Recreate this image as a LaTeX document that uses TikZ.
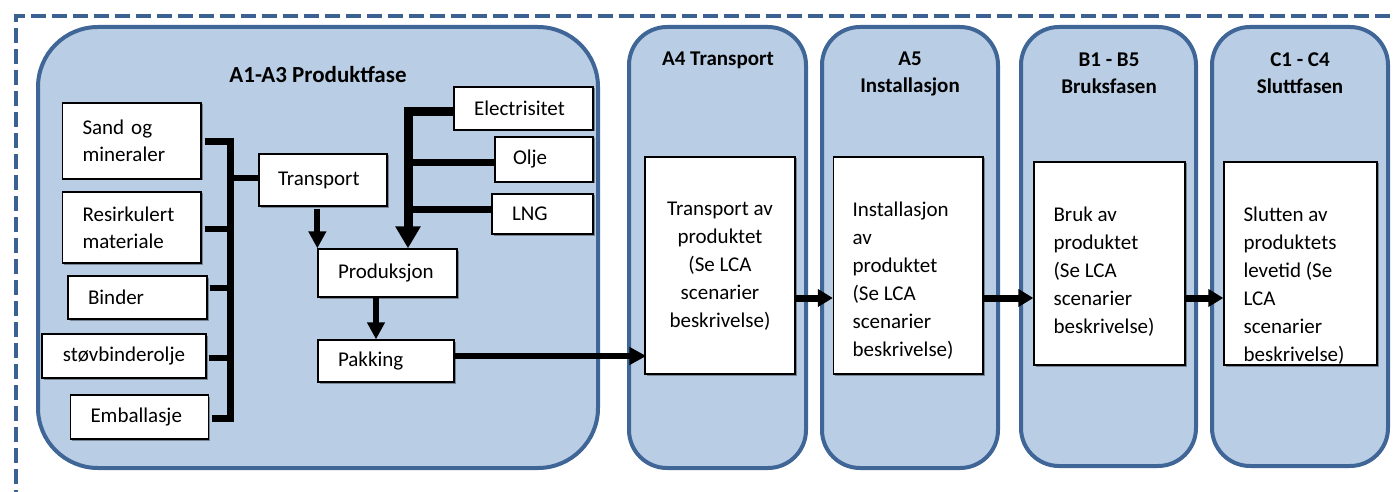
\documentclass[tikz,border=0pt]{standalone}
\usepackage{fontspec}
\setmainfont{Carlito}
\usetikzlibrary{arrows.meta,shadows}
\definecolor{phasefill}{HTML}{B9CDE5}
\definecolor{phaseline}{HTML}{3F6697}
\definecolor{framecol}{HTML}{3B6193}
\newcommand\mybodyfont{\fontsize{21}{27}\selectfont}
\newcommand\myinfont{\fontsize{21}{28}\selectfont}
\newcommand\mytitlefont{\bfseries\fontsize{21}{27}\selectfont}
\begin{document}
\begin{tikzpicture}[x=1pt,y=-1pt,
  frame/.style={draw=framecol, line width=4pt, dash pattern=on 15pt off 6pt},
  phase/.style={draw=phaseline, line width=4pt, fill=phasefill, rounded corners=38pt, inner sep=0pt},
  box/.style={draw=black, line width=1.3pt, fill=white, inner sep=0pt,
    drop shadow={shadow xshift=1.5pt, shadow yshift=-1.5pt, opacity=0.35, fill=black}},
  lbox/.style={box, align=left, inner xsep=20pt, font=\mybodyfont},
  ttl/.style={font=\mytitlefont, align=center, inner sep=0pt},
  intxt/.style={font=\myinfont, inner sep=0pt},
  bus/.style={draw=black, line width=7pt},
  stub/.style={draw=black, line width=6pt},
  ebus/.style={draw=black, line width=9pt},
  arr/.style={draw=black, line width=6pt, -{Triangle[width=17pt,length=17pt]}},
  earr/.style={draw=black, line width=9pt, -{Triangle[width=24pt,length=22pt]}},
  parr/.style={draw=black, line width=7pt, -{Triangle[width=17pt,length=15pt]}}
]
\useasboundingbox (0,0) rectangle (1393,492);
% dashed outer frame
\coordinate (fbl) at (15.5,505);
\coordinate (ftl) at (15.5,16);
\coordinate (ftr) at (1405,16);
\draw[frame] (fbl) -- (ftl) -- (ftr);

% phase boxes
\node[phase, rounded corners=60pt, minimum width=560pt, minimum height=441pt] (p13) at (318,247.5) {};
\node[phase, minimum width=177pt, minimum height=441pt] (pa4) at (717.5,247.5) {};
\node[phase, minimum width=176pt, minimum height=441pt] (pa5) at (910,247.5) {};
\node[phase, minimum width=175pt, minimum height=439pt] (pb) at (1108.5,246.5) {};
\node[phase, minimum width=176pt, minimum height=439pt] (pc) at (1300,246.5) {};

% titles
\node[ttl, font=\bfseries\fontsize{23}{28}\selectfont] (t13) at (318,75) {A1-A3 Produktfase};
\node[ttl] (ta4) at (718,60) {A4 Transport};
\node[ttl] (ta5) at (910,73.5) {A5\\Installasjon};
\node[ttl] (tb) at (1109,73.5) {B1 - B5\\Bruksfasen};
\node[ttl] (tc) at (1300,73.5) {C1 - C4\\Sluttfasen};

% left input boxes
\node[lbox, text width=98.5pt, minimum height=76pt] (sand) at (131.75,141) {Sand og\\mineraler};
\node[lbox, text width=98.5pt, minimum height=71pt] (resirk) at (131.75,227.5) {Resirkulert\\materiale};
\node[lbox, text width=99pt, minimum height=43pt] (binder) at (137.5,297.5) {Binder};
\node[lbox, align=center, text width=124pt, minimum height=44pt] (stov) at (124,356) {støvbinderolje};
\node[lbox, text width=98pt, minimum height=44pt] (emb) at (139.5,417) {Emballasje};
\node[lbox, inner xsep=19pt, text width=90pt, minimum height=52pt] (transp) at (323,180) {Transport};
\node[lbox, text width=99pt, minimum height=48pt] (prod) at (387.5,273) {Produksjon};
\node[lbox, text width=96pt, minimum height=42pt] (pak) at (386,361) {Pakking};
\node[lbox, text width=99pt, minimum height=43pt] (elec) at (523.5,108.5) {Electrisitet};
\node[lbox, inner xsep=18pt, text width=62pt, minimum height=45pt] (olje) at (544,159.5) {Olje};
\node[lbox, text width=61pt, minimum height=40pt] (lng) at (542.5,214) {LNG};

% inner scenario boxes
\node[box, minimum width=150pt, minimum height=217pt] (a4in) at (720,265.5) {};
\node[box, minimum width=149.5pt, minimum height=217pt] (a5in) at (908.25,265.5) {};
\node[box, minimum width=151pt, minimum height=203pt] (bin) at (1109.5,263.5) {};
\node[box, minimum width=153pt, minimum height=203pt] (cin) at (1300.5,263.5) {};

\node[intxt, align=center, anchor=north] (a4t) at ([yshift=-45pt]a4in.north)
  {Transport av\\produktet\\(Se LCA\\scenarier\\beskrivelse)};
\node[intxt, align=left, anchor=north west] (a5t) at ([xshift=19.5pt,yshift=-45pt]a5in.north west)
  {Installasjon\\av\\produktet\\(Se LCA\\scenarier\\beskrivelse)};
\node[intxt, align=left, anchor=north west] (bt) at ([xshift=20pt,yshift=-45pt]bin.north west)
  {Bruk av\\produktet\\(Se LCA\\scenarier\\beskrivelse)};
\node[intxt, align=left, anchor=north west] (ct) at ([xshift=20pt,yshift=-45pt]cin.north west)
  {Slutten av\\produktets\\levetid (Se\\LCA\\scenarier\\beskrivelse)};

% left collector bus
\coordinate (busB) at (230,418);
\draw[bus] ([xshift=3pt,yshift=-1pt]sand.east) -| (busB) -- ([xshift=3pt]busB -| emb.east);
\draw[stub] ([xshift=3pt,yshift=-1.5pt]resirk.east) -- ([yshift=-1.5pt]resirk.east -| busB);
\draw[stub] ([xshift=2pt,yshift=10pt]binder.east) -- ([yshift=10pt]binder.east -| busB);
\draw[stub] ([xshift=2pt,yshift=-2pt]stov.east) -- ([yshift=-2pt]stov.east -| busB);
\draw[stub] ([yshift=2pt]transp.west -| busB) -- ([yshift=2pt]transp.west);

% energy bus
\coordinate (ecol) at (408,112);
\draw[earr] ([yshift=-3.5pt]elec.west) -| (ecol |- prod.north);
\draw[stub, line width=7pt] ([yshift=-3.5pt]olje.west -| ecol) -- ([yshift=-3.5pt]olje.west);
\draw[stub, line width=7pt] ([yshift=5pt]lng.west -| ecol) -- ([yshift=5pt]lng.west);

% process arrows
\draw[arr] ([yshift=-2pt]transp.south -| prod.north west) -- (prod.north west);
\draw[arr] ([xshift=-11.5pt]prod.south) -- ([xshift=-11.5pt]prod.south |- pak.north);
\draw[arr] ([yshift=5pt]pak.east) -- ([yshift=5pt,xshift=2pt]pak.east -| a4in.west);

% phase arrows
\draw[parr] ([yshift=-32.5pt]a4in.east) -- ([yshift=-32.5pt]a4in.east -| a5in.west);
\draw[parr] ([yshift=-32.5pt]a5in.east) -- ([yshift=-32.5pt]a5in.east -| bin.west);
\draw[parr] ([yshift=-34.5pt]bin.east) -- ([yshift=-34.5pt]bin.east -| cin.west);
\end{tikzpicture}
\end{document}
